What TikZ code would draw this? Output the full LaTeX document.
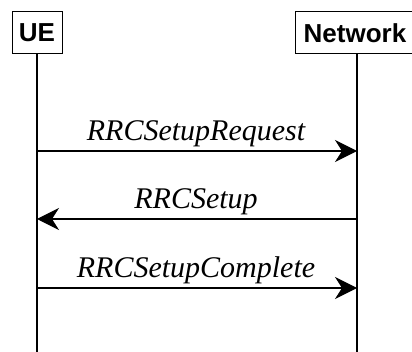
\documentclass[tikz,border=0pt]{standalone}
\usepackage{fontspec}
\setmainfont{Liberation Serif}
\setsansfont{Liberation Sans}
\usetikzlibrary{arrows.meta}
\begin{document}
\begin{tikzpicture}[x=1pt,y=-1pt,
  actor/.style={draw, line width=1pt, font=\sffamily\bfseries\fontsize{26}{30}\selectfont, inner sep=0pt, minimum height=42pt},
  msg/.style={line width=1.3pt, -{Stealth[length=22pt,width=22pt,inset=7pt]}},
  lbl/.style={font=\itshape\fontsize{30}{34}\selectfont, anchor=base, inner sep=0pt},
  life/.style={line width=1.5pt}]
\useasboundingbox (0,0) rectangle (412,352);
\clip (0,0) rectangle (412,352);
\node[actor, minimum width=50pt] (ue) at (37,33) {UE};
\node[actor, minimum width=120pt] (nw) at (355,33) {Network};
\coordinate (ueend) at (37,352);
\coordinate (nwend) at (357,352);
\draw[life] (ue.south) -- (ueend);
\draw[life] (nw.south -| nwend) -- (nwend);
\coordinate (a1) at (37,151); \coordinate (b1) at (357,151);
\coordinate (a2) at (37,219); \coordinate (b2) at (357,219);
\coordinate (a3) at (37,288); \coordinate (b3) at (357,288);
\draw[msg] (a1) -- (b1);
\draw[msg] (b2) -- (a2);
\draw[msg] (a3) -- (b3);
\node[lbl] (t1) at (196,140.5) {RRCSetupRequest};
\node[lbl] (t2) at (196,209) {RRCSetup};
\node[lbl] (t3) at (196,277.5) {RRCSetupComplete};
\end{tikzpicture}
\end{document}
